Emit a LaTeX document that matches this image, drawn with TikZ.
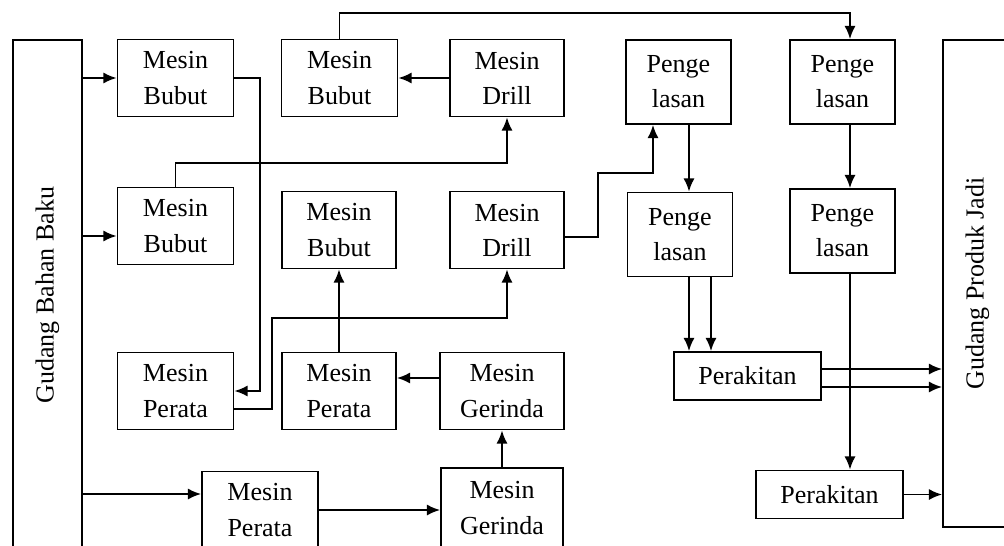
\documentclass[tikz,border=0pt]{standalone}
\usepackage{fontspec}
\setmainfont{Liberation Serif}
\usetikzlibrary{arrows.meta}

\tikzstyle{block} = [rectangle, draw, text width=2.1cm, text centered, inner sep=0pt,
minimum width=2.32cm, minimum height=1.54cm, font=\fontsize{14.8}{20}\selectfont]
\tikzstyle{las} = [block, text width=2cm, minimum width=2.1cm, minimum height=1.68cm]
\tikzstyle{rakit} = [block, text width=2.7cm, minimum width=2.94cm, minimum height=0.96cm]
\tikzstyle{gudang} = [rectangle, draw, minimum width=1.38cm]
\tikzstyle{tulisan} = [rotate=90, font=\fontsize{14.8}{20}\selectfont]
\tikzstyle{line} = [draw, -{Latex[length=7.5pt,width=6.4pt]}]

\begin{document}
\begin{tikzpicture}[x=0.02cm, y=-0.02cm, line width=1.1pt]
		\useasboundingbox (0,0) rectangle (1004,545);
		\node [gudang, minimum height=10.2cm, label={[tulisan]center:Gudang Bahan Baku}] (gbb) at (47.5,295) {};
		\node [gudang, minimum height=9.74cm, label={[tulisan]center:Gudang Produk Jadi}] (gpj) at (977.5,283.5) {};
		
		\node [block] (bubutA) at (175.5,78) {Mesin\\Bubut};
		\node [block] (bubutB) at (339.5,78) {Mesin\\Bubut};
		\node [block, minimum width=2.28cm] (drillA) at (507,78) {Mesin\\Drill};
		\node [las] (lasA) at (678.5,82) {Penge\\lasan};
		\node [las] (lasB) at (842.5,82) {Penge\\lasan};
		\node [block] (bubutC) at (175.5,226) {Mesin\\Bubut};
		\node [block, minimum width=2.28cm] (bubutD) at (339,230) {Mesin\\Bubut};
		\node [block, minimum width=2.28cm] (drillB) at (507,230) {Mesin\\Drill};
		\node [las] (lasC) at (680,234.5) {Penge\\lasan};
		\node [las] (lasD) at (842.5,231) {Penge\\lasan};
		\node [block] (perataA) at (175.5,391) {Mesin\\Perata};
		\node [block, minimum width=2.28cm] (perataB) at (339,391) {Mesin\\Perata};
		\node [block, minimum width=2.48cm] (gerindaA) at (502,391) {Mesin\\Gerinda};
		\node [block] (perataC) at (260,510) {Mesin\\Perata};
		\node [block, minimum width=2.44cm, minimum height=1.6cm] (gerindaB) at (502,508) {Mesin\\Gerinda};
		\node [rakit] (rakitA) at (747.5,376) {Perakitan};
		\node [rakit] (rakitB) at (829.5,494.5) {Perakitan};
		
		\coordinate (inC) at ([yshift=-0.2cm]bubutC.west);
		\coordinate (inP) at ([yshift=0.32cm]perataC.west);
		\coordinate (gerA) at ([yshift=0.26cm]gerindaA.west);
		\coordinate (lasAin) at ([xshift=-0.51cm]lasA.south);
		\coordinate (colA) at ([xshift=0.21cm]lasA.south);
		\coordinate (colA2) at ([xshift=0.44cm]colA);
		\coordinate (colB) at ([xshift=0.15cm]lasB.north);
		\coordinate (outA) at ([yshift=0.14cm]rakitA.east);
		\coordinate (outA2) at ([yshift=-0.22cm]rakitA.east);
		
		\path [line] (gbb.east |- bubutA) -- (bubutA);
		\path [line] (gbb.east |- inC) -- (inC);
		\path [line] (gbb.east |- inP) -- (inP);
		\path [line] (bubutA.east) -- ++(26,0) |- (perataA.east);
		\path [line] (bubutC.north) -- ++(0,-24) -| (drillA.south);
		\path [line] (drillA) -- (bubutB);
		\path [line] (bubutB.north) -- ++(0,-26) -| (colB);
		\path [line] ([yshift=-0.36cm]perataA.east) -- ++(38,0) -- ++(0,-91) -| (drillB.south);
		\path [line] (perataB.north) -- (bubutD.south);
		\path [line] (gerA) -- (gerA -| perataB.east);
		\path [line] (gerindaB.north) -- (gerindaA.south);
		\path [line] (perataC.east) -- (perataC.east -| gerindaB.west);
		\path [line] ([yshift=-0.14cm]drillB.east) -- ++(33,0) -- ++(0,-64) -| (lasAin);
		\path [line] (colA) -- (colA |- lasC.north);
		\path [line] (colA |- lasC.south) -- (colA |- rakitA.north);
		\path [line] (colA2 |- lasC.south) -- (colA2 |- rakitA.north);
		\path [line] (colB |- lasB.south) -- (colB |- lasD.north);
		\path [line] (colB |- lasD.south) -- (colB |- rakitB.north);
		\path [line] (outA) -- (outA -| gpj.west);
		\path [line] (outA2) -- (outA2 -| gpj.west);
		\path [line] (rakitB.east) -- (rakitB.east -| gpj.west);
	\end{tikzpicture}
\end{document}
